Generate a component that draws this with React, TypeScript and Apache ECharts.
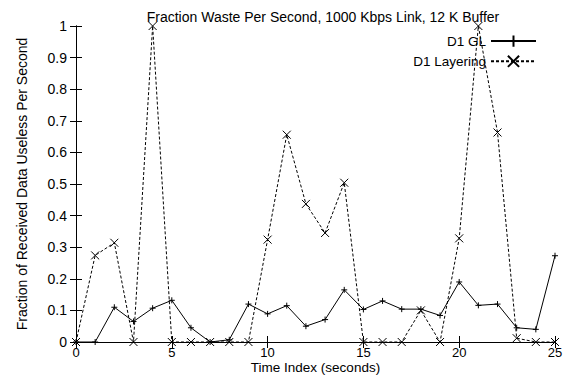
import React, { useEffect, useRef } from "react";
import * as echarts from "echarts";

const timeIndex = [0,1,2,3,4,5,6,7,8,9,10,11,12,13,14,15,16,17,18,19,20,21,22,23,24,25];
const d1GL = [0,0,0.11,0.065,0.107,0.132,0.045,0,0.007,0.12,0.089,0.115,0.05,0.071,0.165,0.103,0.13,0.104,0.104,0.084,0.19,0.116,0.12,0.045,0.04,0.273];
const d1Layering = [0,0.274,0.314,0,1.0,0,0,0,0,0,0.324,0.656,0.437,0.345,0.504,0,0,0,0.1,0,0.328,1.0,0.663,0.012,0,0];
const yTicks = [0,0.1,0.2,0.3,0.4,0.5,0.6,0.7,0.8,0.9,1];

const FONT = "Liberation Sans, Arial, Helvetica, sans-serif";
const PLUS = "path://M0,5L10,5M5,0L5,10";
const CROSS = "path://M0,0L10,10M10,0L0,10";

export default function App() {
  const ref = useRef<HTMLDivElement>(null);
  useEffect(() => {
    const chart = echarts.init(ref.current!, undefined, { renderer: "svg" });
    const pairs = (ys: number[]) => timeIndex.map((x, i) => [x, ys[i]]);
    const baseX = {
      type: "value" as const, min: 0, max: 25, interval: 5,
      axisLine: { show: true, lineStyle: { color: "#000", width: 1 } },
      axisTick: { show: true, inside: true, length: 6, lineStyle: { color: "#000" } },
      splitLine: { show: false },
    };
    const baseY = {
      type: "value" as const, min: 0, max: 1, interval: 0.1,
      axisLine: { show: true, lineStyle: { color: "#000", width: 1 } },
      axisTick: { show: true, inside: true, length: 6, lineStyle: { color: "#000" } },
      splitLine: { show: false },
    };
    chart.setOption({
      animation: false,
      backgroundColor: "#fff",
      title: {
        text: "Fraction Waste Per Second, 1000 Kbps Link, 12 K Buffer",
        left: 318, top: 5, textAlign: "center",
        textStyle: { fontFamily: FONT, fontSize: 14, fontWeight: "normal", color: "#000" },
      },
      grid: { left: 76, right: 13, top: 26, bottom: 33, containLabel: false, outerBoundsMode: "none" },
      legend: {
        orient: "vertical", right: 26, top: 28, align: "right",
        itemWidth: 45, itemHeight: 14, itemGap: 4,
        textStyle: { fontFamily: FONT, fontSize: 13.5, color: "#000" },
        data: ["D1 GL", "D1 Layering"],
      },
      xAxis: [
        {
          ...baseX, position: "bottom",
          name: "Time Index (seconds)", nameLocation: "middle", nameGap: 19, nameMoveOverlap: false,
          nameTextStyle: { fontFamily: FONT, fontSize: 13.5, lineHeight: 13, color: "#000" },
          axisLabel: { fontFamily: FONT, fontSize: 13, lineHeight: 13, color: "#000", margin: 4 },
        },
        { ...baseX, position: "top", axisLabel: { show: false } },
      ],
      yAxis: [
        {
          ...baseY, position: "left",
          name: "Fraction of Received Data Useless Per Second", nameLocation: "middle", nameGap: 47, nameMoveOverlap: false,
          nameTextStyle: { fontFamily: FONT, fontSize: 14, color: "#000" },
          axisLabel: {
            fontFamily: FONT, fontSize: 14, color: "#000", margin: 9,
            formatter: (v: number) => {
              const t = yTicks.find((k) => Math.abs(k - v) < 1e-6);
              return t === undefined ? "" : String(t);
            },
          },
        },
        { ...baseY, position: "right", axisLabel: { show: false } },
      ],
      series: [
        {
          name: "D1 GL", type: "line", data: pairs(d1GL),
          symbol: PLUS, symbolSize: 6, showAllSymbol: true,
          lineStyle: { color: "#000", width: 1 },
          itemStyle: { color: "none", borderColor: "#000", borderWidth: 1 },
          emphasis: { disabled: true },
        },
        {
          name: "D1 Layering", type: "line", data: pairs(d1Layering),
          symbol: CROSS, symbolSize: 8, showAllSymbol: true,
          lineStyle: { color: "#000", width: 1, type: [3, 2] },
          itemStyle: { color: "none", borderColor: "#000", borderWidth: 1 },
          emphasis: { disabled: true },
        },
      ],
    });
    return () => chart.dispose();
  }, []);
  return <div ref={ref} style={{ width: 568, height: 375, position: "absolute", left: 0, top: 0 }} />;
}
